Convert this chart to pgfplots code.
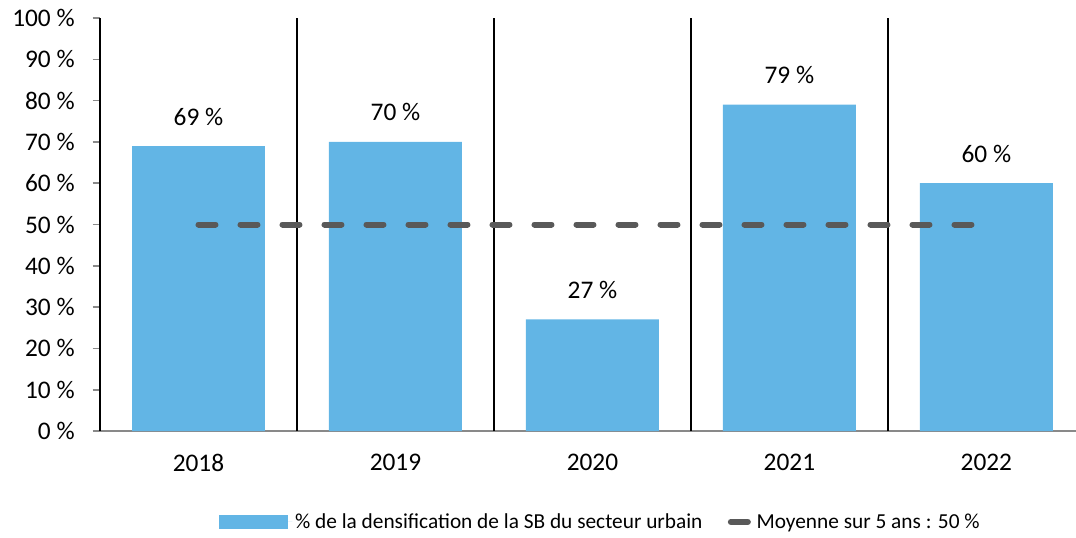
\documentclass[border=0pt]{standalone}
\usepackage{pgfplots}
\pgfplotsset{compat=1.18}
\usepackage{fontspec}
\setmainfont{Carlito}
\definecolor{barblue}{HTML}{62B5E5}
\definecolor{avggray}{HTML}{595959}
\definecolor{axgray}{HTML}{898989}
\begin{document}
\begin{tikzpicture}[x=1pt,y=1pt]
\path[use as bounding box] (-75pt,-79.5pt) rectangle (732pt,323.25pt);
\begin{axis}[
  at={(0,0)}, anchor=south west,
  scale only axis,
  width=732pt, height=309.75pt,
  xmin=0.5, xmax=5.455,
  ymin=0, ymax=100,
  axis line style={axgray, line width=1.2pt},
  axis x line*=bottom, axis y line*=left,
  ytick={0,10,...,100},
  yticklabels={0 \%,10 \%,20 \%,30 \%,40 \%,50 \%,60 \%,70 \%,80 \%,90 \%,100 \%},
  xtick={1,2,3,4,5},
  xticklabels={2018,2019,2020,2021,2022},
  major tick length=5.5pt,
  xtick style={draw=none},
  ytick style={draw=axgray, line width=1.2pt},
  extra x ticks={0.5,1.5,2.5,3.5,4.5},
  extra x tick labels={},
  extra x tick style={tick style={draw=axgray,line width=1.2pt}, xtick align=outside,
    grid=major, major grid style={black, line width=1.2pt}},
  ytick align=outside,
  yticklabel style={font=\fontsize{19}{22}\selectfont, xshift=-10pt},
  xticklabel style={font=\fontsize{19}{22}\selectfont, yshift=-14pt},
  tick label style={/pgf/number format/assume math mode=true},
  legend style={at={(0.513,-0.22)}, anchor=center, draw=none, legend columns=2,
    font=\fontsize{16}{19}\selectfont, /tikz/every even column/.append style={column sep=17pt}},
  clip=false,
]
\addplot[ybar, bar width=0.675, fill=barblue, draw=none,
  nodes near coords={\pgfmathprintnumber[assume math mode=true]{\pgfplotspointmeta}~\%},
  nodes near coords style={font=\fontsize{19}{22}\selectfont, black, yshift=12pt},
  legend image code/.code={\fill[barblue] (0pt,-5.5pt) rectangle (52pt,5.5pt); \path (0pt,0pt) -- (55pt,0pt);}]
  coordinates {(1,69) (2,70) (3,27) (4,79) (5,60)};
\addlegendentry{\% de la densification de la SB du secteur urbain}
\addplot[avggray, line width=4.5pt, line cap=round, dash pattern=on 12.75pt off 18.75pt,
  legend image code/.code={\draw[avggray, line width=4.5pt, line cap=round] (2.25pt,0) -- (9pt,0); \path (0pt,0pt) -- (15pt,0pt);}]
  coordinates {(1,50) (4.94,50)};
\addlegendentry{Moyenne sur 5 ans : 50 \%}
\end{axis}
\end{tikzpicture}
\end{document}
